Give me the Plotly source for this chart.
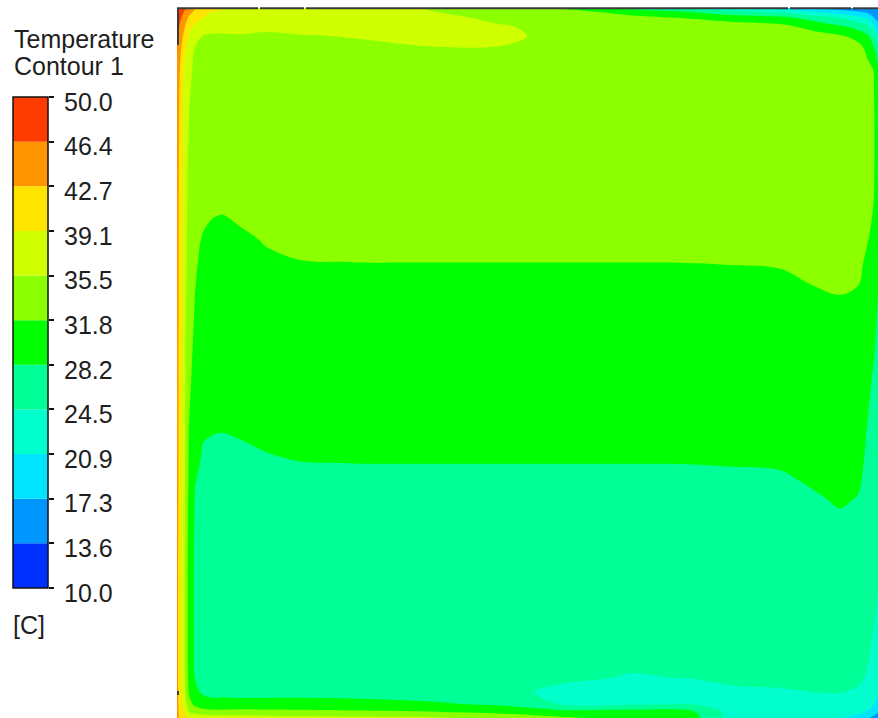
import numpy as np
import plotly.graph_objects as go

# ---- contour levels of the temperature field [C] ----
t_min, t_max, n_bands = 10.0, 50.0, 11
level_labels = ["10.0", "13.6", "17.3", "20.9", "24.5", "28.2",
                "31.8", "35.5", "39.1", "42.7", "46.4", "50.0"]
band_colors = ["#0030ff", "#0096ff", "#00e4ff", "#00ffcc", "#00ff96", "#00ff00",
               "#8cff00", "#d0ff00", "#ffe400", "#ff9600", "#ff3c00"]

# ---- sampling positions in the cavity (m); x from the heated wall, y listed from the ceiling down ----
x_nodes = [0.0, 0.0042, 0.0099, 0.0169, 0.0254, 0.0366, 0.0493, 0.0634, 0.0887, 0.1239,
           0.1732, 0.2577, 0.3563, 0.4549, 0.5394, 0.6380, 0.7296, 0.7789, 0.8493, 0.8986,
           0.9338, 0.9592, 0.9732, 0.9817, 0.9873]
y_nodes = [1.0, 0.9944, 0.9859, 0.9746, 0.9606, 0.9437, 0.9127, 0.8423, 0.7577, 0.7085,
           0.6732, 0.6423, 0.6099, 0.5606, 0.4761, 0.4028, 0.3775, 0.3592, 0.3352, 0.3070,
           0.2648, 0.1944, 0.1099, 0.0563, 0.0366, 0.0197, 0.0085, 0.0]

# ---- temperature [C], one list per x position, ceiling -> floor ----
t_columns = [
    [49.5, 49.0, 48.5, 48.0, 47.3, 46.6, 46.0, 45.6, 45.4, 45.3, 45.2, 45.2, 45.1, 45.0,
     45.0, 44.9, 44.9, 44.8, 44.8, 44.7, 44.6, 44.5, 44.4, 44.3, 44.3, 44.2, 44.2, 44.0],
    [48.5, 48.0, 47.0, 46.0, 44.8, 43.8, 42.6, 41.5, 41.0, 40.9, 40.8, 40.8, 40.7, 40.6,
     40.5, 40.4, 40.4, 40.3, 40.3, 40.2, 40.2, 40.1, 40.1, 40.2, 40.5, 41.0, 41.5, 42.0],
    [47.0, 46.3, 45.0, 43.5, 42.0, 40.5, 39.0, 37.8, 37.3, 37.2, 37.1, 37.0, 37.0, 36.9,
     36.8, 36.7, 36.6, 36.6, 36.5, 36.4, 36.3, 36.2, 36.2, 36.4, 37.0, 38.0, 39.5, 41.0],
    [45.5, 44.0, 42.0, 40.0, 38.5, 37.3, 36.2, 35.4, 34.8, 34.5, 34.2, 34.0, 33.7, 33.2,
     32.5, 31.7, 31.5, 31.4, 31.3, 30.9, 30.6, 30.4, 30.4, 30.8, 31.5, 33.0, 35.5, 39.5],
    [43.0, 42.0, 40.5, 38.5, 36.8, 35.3, 34.8, 34.1, 33.2, 32.7, 32.4, 32.1, 31.9, 31.5,
     30.6, 29.6, 29.2, 28.8, 28.3, 28.0, 27.8, 27.6, 27.7, 28.1, 29.0, 31.0, 34.0, 39.0],
    [41.5, 40.5, 39.0, 37.0, 35.4, 35.0, 34.5, 33.8, 32.9, 32.3, 31.6, 31.3, 31.0, 30.4,
     29.5, 28.45, 28.0, 27.8, 27.6, 27.4, 27.2, 26.9, 26.8, 27.0, 27.6, 30.0, 33.0, 38.5],
    [40.5, 39.0, 37.5, 36.3, 35.2, 34.9, 34.4, 33.6, 32.6, 31.88, 31.5, 31.1, 30.8, 30.2,
     29.3, 28.25, 27.9, 27.6, 27.4, 27.2, 27.0, 26.7, 26.4, 26.4, 27.0, 29.5, 32.8, 38.2],
    [39.5, 38.5, 37.3, 36.2, 35.2, 34.95, 34.5, 33.7, 32.7, 31.8, 31.3, 30.9, 30.5, 30.0,
     29.3, 28.2, 27.8, 27.6, 27.4, 27.2, 26.9, 26.5, 26.2, 26.1, 26.8, 29.8, 32.6, 38.0],
    [39.0, 38.2, 37.2, 36.3, 35.3, 34.95, 34.6, 33.9, 32.9, 32.05, 31.55, 31.2, 30.9, 30.4,
     29.5, 28.35, 27.95, 27.7, 27.5, 27.3, 26.9, 26.4, 25.9, 25.7, 26.4, 30.0, 32.7, 37.6],
    [38.3, 37.8, 37.0, 36.0, 35.1, 34.95, 34.7, 34.1, 33.1, 32.5, 31.9, 31.6, 31.2, 30.7,
     29.7, 28.7, 28.22, 27.95, 27.6, 27.35, 27.0, 26.4, 25.9, 25.6, 26.4, 30.0, 32.6, 37.3],
    [38.0, 37.6, 37.0, 36.4, 35.3, 34.9, 34.8, 34.2, 33.3, 32.7, 32.2, 31.78, 31.4, 30.9,
     29.9, 29.0, 28.45, 28.15, 27.8, 27.5, 27.1, 26.5, 25.9, 25.6, 26.5, 30.0, 32.5, 37.0],
    [37.2, 37.1, 37.0, 36.5, 35.6, 35.0, 34.8, 34.2, 33.3, 32.7, 32.2, 31.83, 31.4, 30.9,
     29.9, 29.0, 28.5, 28.2, 27.8, 27.5, 27.1, 26.5, 25.9, 25.5, 26.3, 29.6, 32.3, 36.5],
    [35.2, 35.6, 36.3, 36.7, 36.6, 35.25, 34.8, 34.2, 33.3, 32.7, 32.2, 31.83, 31.4, 30.9,
     29.9, 29.0, 28.5, 28.2, 27.8, 27.5, 27.1, 26.5, 25.9, 25.4, 25.8, 28.8, 32.0, 36.0],
    [33.0, 34.0, 34.9, 35.6, 36.0, 35.35, 34.8, 34.2, 33.3, 32.7, 32.2, 31.83, 31.4, 30.9,
     29.9, 29.0, 28.5, 28.2, 27.8, 27.5, 27.1, 26.4, 25.7, 25.2, 25.0, 27.5, 31.0, 34.5],
    [31.5, 33.5, 34.5, 34.9, 34.8, 34.8, 34.8, 34.2, 33.3, 32.7, 32.2, 31.83, 31.4, 30.9,
     29.9, 29.0, 28.5, 28.2, 27.8, 27.5, 27.0, 26.3, 25.4, 24.8, 24.2, 24.45, 29.5, 32.5],
    [27.0, 30.5, 33.0, 34.6, 35.0, 35.0, 34.8, 34.2, 33.3, 32.7, 32.2, 31.83, 31.4, 30.9,
     29.9, 29.0, 28.5, 28.2, 27.8, 27.5, 27.0, 26.2, 25.2, 24.45, 23.6, 24.0, 29.8, 31.0],
    [23.5, 28.0, 31.5, 33.8, 34.6, 34.9, 34.8, 34.2, 33.3, 32.7, 32.2, 31.84, 31.42, 30.9,
     29.9, 29.0, 28.52, 28.22, 27.82, 27.5, 27.0, 26.2, 25.1, 24.6, 23.8, 24.1, 28.3, 29.0],
    [21.5, 26.0, 30.5, 33.3, 34.3, 34.7, 34.7, 34.1, 33.2, 32.6, 32.2, 31.87, 31.47, 30.9,
     29.9, 29.0, 28.57, 28.27, 27.88, 27.5, 27.0, 26.2, 25.1, 24.8, 24.3, 23.6, 23.4, 23.3],
    [19.5, 24.0, 29.5, 32.6, 33.8, 34.3, 34.5, 34.0, 33.2, 32.7, 32.3, 31.95, 31.5, 30.9,
     29.9, 29.1, 28.65, 28.35, 27.95, 27.6, 27.1, 26.3, 25.2, 24.9, 24.4, 23.5, 23.0, 22.5],
    [17.0, 21.0, 26.5, 30.5, 33.0, 34.0, 34.3, 33.9, 33.1, 32.7, 32.4, 32.3, 31.85, 31.2,
     30.2, 29.3, 28.9, 28.65, 28.4, 28.0, 27.4, 26.5, 25.3, 25.0, 24.55, 23.8, 23.0, 22.0],
    [15.5, 19.0, 24.5, 28.5, 32.2, 33.6, 34.0, 33.8, 33.1, 32.8, 32.6, 32.4, 32.1, 31.1,
     30.3, 29.5, 29.1, 28.85, 28.6, 28.35, 27.75, 26.7, 25.4, 25.0, 24.6, 23.9, 23.0, 21.0],
    [15.0, 17.5, 22.0, 26.5, 30.8, 32.8, 33.5, 33.5, 33.0, 32.7, 32.5, 32.4, 31.85, 30.8,
     29.8, 29.1, 28.8, 28.6, 28.4, 28.1, 27.6, 26.6, 25.3, 24.9, 24.3, 23.5, 22.0, 19.5],
    [14.5, 16.5, 20.5, 25.0, 28.5, 31.0, 32.5, 32.7, 32.6, 32.4, 31.85, 31.3, 30.9, 30.2,
     28.6, 28.0, 27.9, 27.85, 27.8, 27.7, 27.3, 26.3, 25.0, 24.3, 23.5, 22.5, 20.5, 17.5],
    [14.0, 15.2, 17.5, 21.0, 25.0, 28.3, 31.7, 32.0, 31.95, 31.6, 31.2, 30.8, 30.4, 28.7,
     27.9, 27.6, 27.5, 27.4, 27.3, 27.2, 26.8, 25.4, 24.3, 23.5, 22.5, 21.0, 19.0, 16.0],
    [13.8, 14.5, 16.0, 18.5, 21.5, 25.5, 29.0, 30.0, 30.2, 29.8, 29.3, 28.8, 28.3, 27.9,
     27.5, 27.2, 27.1, 27.0, 26.9, 26.7, 25.8, 24.8, 23.5, 22.0, 21.0, 19.5, 17.5, 15.0],
]

# grid arranged for plotly: rows = increasing height
z = np.array(t_columns).T[::-1]
y_asc = y_nodes[::-1]

step = (t_max - t_min) / n_bands
levels = [t_min + i * step for i in range(n_bands + 1)]

# banded colour scale: fill of band i is sampled at (i + 1) / 12
n_stops = n_bands + 1
scale = [[0.0, band_colors[0]]]
for i, c in enumerate(band_colors):
    scale.append([(i + 1) / n_stops, c])
scale.append([1.0, band_colors[-1]])

W, H = 878, 718
FONT = "Liberation Sans, Arial, sans-serif"
TXT = "#1e1e1e"

fig = go.Figure()

fig.add_trace(go.Contour(
    x=x_nodes, y=y_asc, z=z,
    autocontour=False,
    contours=dict(start=t_min, end=t_max, size=step, coloring="fill", showlines=False),
    line=dict(width=0, smoothing=1.0),
    colorscale=scale, showscale=False, hoverinfo="skip",
))

# colour legend as a stacked bar on its own axis pair
fig.add_trace(go.Bar(
    x=[0] * n_bands, y=[step] * n_bands, base=levels[:-1],
    marker=dict(color=band_colors, line=dict(width=0)),
    width=1, xaxis="x2", yaxis="y2", showlegend=False, hoverinfo="skip",
))


def px_x(p):
    return p / W


def px_y(p):
    return 1 - p / H


shapes = [
    dict(type="rect", xref="x2 domain", yref="y2 domain", x0=0, x1=1, y0=0, y1=1,
         line=dict(color="#111111", width=1.5), layer="above"),
]
# wall outline segments along the ceiling and the upper part of the hot wall
for a, b in [(177, 258), (260, 304), (306, 788), (790, 851), (853, 878)]:
    shapes.append(dict(type="line", xref="paper", yref="paper",
                       x0=px_x(a), x1=px_x(b), y0=px_y(8.3), y1=px_y(8.3),
                       line=dict(color="#3a3a3a", width=2), layer="above"))
shapes.append(dict(type="line", xref="paper", yref="paper",
                   x0=px_x(178), x1=px_x(178), y0=px_y(8), y1=px_y(45),
                   line=dict(color="#3a3a3a", width=2), layer="above"))
shapes.append(dict(type="line", xref="paper", yref="paper",
                   x0=px_x(178), x1=px_x(178), y0=px_y(691), y1=px_y(695),
                   line=dict(color="#3a3a3a", width=2), layer="above"))

annotations = [
    dict(text="Temperature", x=px_x(12), y=px_y(39), xref="paper", yref="paper",
         xanchor="left", yanchor="middle", showarrow=False,
         font=dict(family=FONT, size=25, color=TXT)),
    dict(text="Contour 1", x=px_x(12), y=px_y(66), xref="paper", yref="paper",
         xanchor="left", yanchor="middle", showarrow=False,
         font=dict(family=FONT, size=25, color=TXT)),
    dict(text="[C]", x=px_x(11), y=px_y(625), xref="paper", yref="paper",
         xanchor="left", yanchor="middle", showarrow=False,
         font=dict(family=FONT, size=25, color=TXT)),
]

fig.update_layout(
    width=W, height=H, margin=dict(l=0, r=0, t=0, b=0, pad=0, autoexpand=False),
    paper_bgcolor="white", plot_bgcolor="white", barmode="overlay",
    showlegend=False,
    xaxis=dict(domain=[px_x(177), 1.0], range=[0, x_nodes[-1]], visible=False,
               fixedrange=True, automargin=False),
    yaxis=dict(domain=[0, px_y(8)], range=[0, 1.0], visible=False, fixedrange=True,
               automargin=False),
    xaxis2=dict(domain=[px_x(13), px_x(48)], range=[-0.5, 0.5], visible=False,
                anchor="y2", automargin=False),
    yaxis2=dict(domain=[px_y(588), px_y(97)], range=[t_min, t_max], anchor="x2",
                side="right", tickmode="array", tickvals=levels, ticktext=level_labels,
                ticks="outside", ticklen=5, tickwidth=1.5, tickcolor="#111111",
                showgrid=False, zeroline=False, showline=False, automargin=False,
                tickfont=dict(family=FONT, size=25, color=TXT),
                ticklabelshift=5, ticklabelstandoff=5),
    shapes=shapes,
    annotations=annotations,
)

fig.write_html("out.html")
